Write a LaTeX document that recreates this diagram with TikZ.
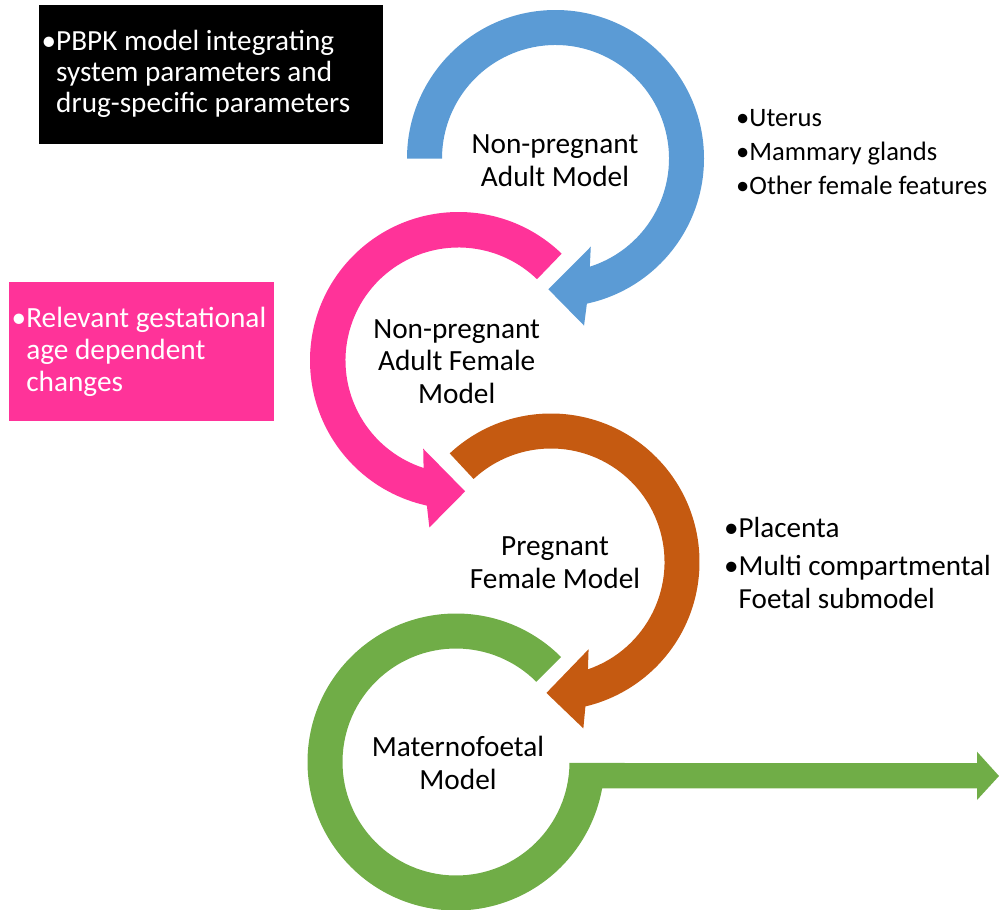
\documentclass[tikz,border=0pt]{standalone}
\usepackage{fontspec}
\setmainfont{Carlito}
\definecolor{cblue}{HTML}{5B9BD5}
\definecolor{cpink}{HTML}{FF3399}
\definecolor{corange}{HTML}{C55A11}
\definecolor{cgreen}{HTML}{70AD47}
\tikzset{
  ringtext/.style={align=center, inner sep=0pt, font=\fontsize{29.3}{32.6}\selectfont, text=black},
  sidetext/.style={align=left, inner sep=0pt, text=black},
  boxtext/.style={align=left, inner sep=0pt, text=white},
}
\begin{document}
\begin{tikzpicture}[x=1pt,y=-1pt]
\useasboundingbox (0,0) rectangle (999,910);
% centres of the circular arrows
\coordinate (cB) at (555.5,158.5);
\coordinate (cP) at (458.5,360.5);
\coordinate (cO) at (551,562);
\coordinate (cG) at (456,762);
% blue
\begin{scope}[shift={(cB)}]
\fill[cblue] (180:148.5) arc[start angle=180, end angle=437.8, radius=148.5]
  -- (440.3:169.5) -- (453.1:131) -- (428.2:95) -- (432.4:113.5)
  arc[start angle=432.4, end angle=180, radius=113.5] -- cycle;
\end{scope}
% pink
\begin{scope}[shift={(cP)}]
\fill[cpink] (314:148.5) arc[start angle=314, end angle=102.3, radius=148.5]
  -- (99.9:169.5) -- (87.1:131) -- (111.8:95) -- (108:113)
  arc[start angle=108, end angle=314, radius=113] -- cycle;
\end{scope}
% orange
\begin{scope}[shift={(cO)}]
\fill[corange] (227:148.5) arc[start angle=227, end angle=436.6, radius=148.5]
  -- (439:169.5) -- (452:131) -- (426.7:95) -- (431:113.5)
  arc[start angle=431, end angle=227, radius=113.5] -- cycle;
\end{scope}
% green
\begin{scope}[shift={(cG)}]
\fill[cgreen] (315:148.5) arc[start angle=315, end angle=10.2, radius=148.5]
  -- (521,26.3) -- (521,38) -- (543,14) -- (521,-10.3) -- (521,1)
  -- (0.5:113.5) arc[start angle=0.5, end angle=315, radius=113.5] -- cycle;
\end{scope}
% texts in rings (base anchor = baseline of the last line)
\node[ringtext, anchor=base] (tB) at (555,186.3) {Non-pregnant\\Adult Model};
\node[ringtext, anchor=base] (tP) at (456.7,403.2) {Non-pregnant\\Adult Female\\Model};
\node[ringtext, anchor=base] (tO) at (555,588.5) {Pregnant\\Female Model};
\node[ringtext, anchor=base] (tG) at (458,789) {Maternofoetal\\Model};
% side texts
\node[sidetext, font=\fontsize{26.6}{34}\selectfont, anchor=base west] (sU) at (736,194)
  {•Uterus\\•Mammary glands\\•Other female features};
\node[sidetext, font=\fontsize{29.1}{33}\selectfont, anchor=base west] (sP) at (724,608)
  {•Placenta\\[5pt]•Multi compartmental\\\hphantom{•}Foetal submodel};
% boxes
\fill[black] (39.3,5) rectangle (382.7,144);
\node[boxtext, font=\fontsize{29.2}{31}\selectfont, anchor=base west] (bK) at (41.5,112)
  {•PBPK model integrating\\\hphantom{•}system parameters and\\\hphantom{•}drug-specific parameters};
\fill[cpink] (9,282.3) rectangle (274,420.7);
\node[boxtext, font=\fontsize{29.3}{32}\selectfont, anchor=base west] (bR) at (11.5,391.5)
  {•Relevant gestational\\\hphantom{•}age dependent\\\hphantom{•}changes};
\end{tikzpicture}
\end{document}
